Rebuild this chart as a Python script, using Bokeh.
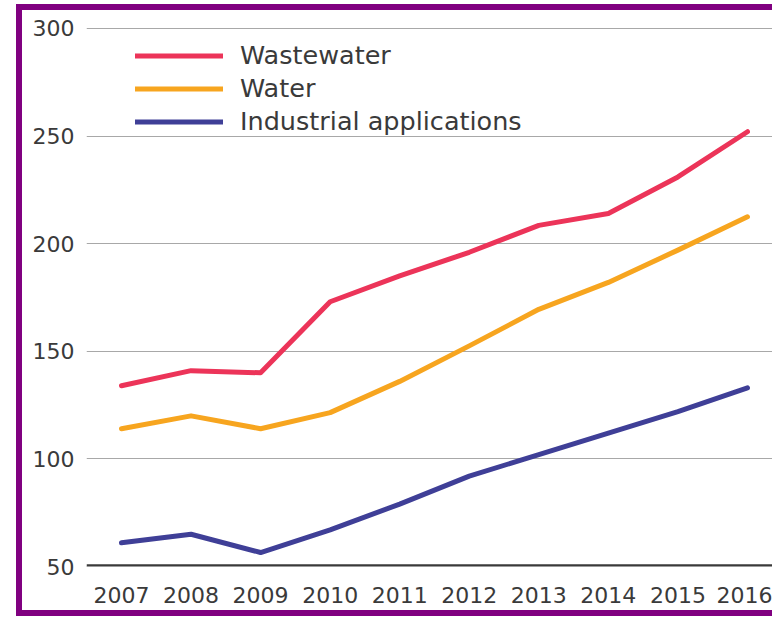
from bokeh.plotting import figure
from bokeh.models import Range1d, FixedTicker, Legend, LegendItem, Span
from bokeh.embed import file_html
from bokeh.resources import INLINE

years = [2007, 2008, 2009, 2010, 2011, 2012, 2013, 2014, 2015, 2016]
wastewater = [134, 141, 140, 173, 185, 196, 208.5, 214, 231, 252]
water = [114, 120, 114, 121.5, 136, 152.5, 169.5, 182, 197, 212.5]
industrial = [61, 65, 56.5, 67, 79, 92, 102, 112, 122, 133]
y_ticks = [50, 100, 150, 200, 250, 300]

series_names = ["Wastewater", "Water", "Industrial applications"]
colors = ["#EC3459", "#F7A51F", "#3F3F97"]

FONT = "DejaVu Sans"
TXT = "#3a3a3a"
FRAME = "6px solid #800080"

p = figure(width=756, height=612, output_backend="svg", toolbar_location=None,
           x_range=Range1d(2006.497, 2016.36), y_range=Range1d(50, 307.4),
           min_border_left=64, min_border_right=6, min_border_top=2, min_border_bottom=56)
p.styles = {"border-left": FRAME, "border-top": FRAME, "border-bottom": FRAME,
            "margin-left": "16px", "margin-top": "4px"}
p.outline_line_color = None
p.background_fill_color = "white"
p.border_fill_color = "white"

# axes
p.xaxis.ticker = FixedTicker(ticks=years)
p.yaxis.ticker = FixedTicker(ticks=y_ticks)
for ax in (p.xaxis, p.yaxis):
    ax.axis_line_color = None
    ax.major_tick_line_color = None
    ax.minor_tick_line_color = None
    ax.major_tick_out = 0
    ax.major_tick_in = 0
    ax.major_label_text_font = FONT
    ax.major_label_text_font_size = "22px"
    ax.major_label_text_color = TXT
p.xaxis.major_label_standoff = 20
p.yaxis.major_label_standoff = 12

p.xgrid.grid_line_color = None
p.ygrid.grid_line_color = "#a8a8a8"
p.ygrid.grid_line_width = 1.2

# baseline (double line)
p.add_layout(Span(location=50, dimension="width", line_color="#3a3a3a", line_width=4.5))
p.add_layout(Span(location=50, dimension="width", line_color="#9a9a9a", line_width=1))

renderers = []
for vals, c in zip([wastewater, water, industrial], colors):
    r = p.line(years, vals, line_color=c, line_width=5, line_cap="round", line_join="round")
    renderers.append(r)

legend = Legend(items=[LegendItem(label=n, renderers=[r]) for n, r in zip(series_names, renderers)],
                location=(49, 428.5), orientation="vertical",
                glyph_width=88, glyph_height=33, label_height=33, spacing=0,
                padding=0, margin=0, label_standoff=17,
                label_text_font=FONT, label_text_font_size="25.5px", label_text_color=TXT,
                border_line_color=None, background_fill_alpha=0)
p.add_layout(legend)

open("out.html", "w").write(file_html(p, INLINE))
